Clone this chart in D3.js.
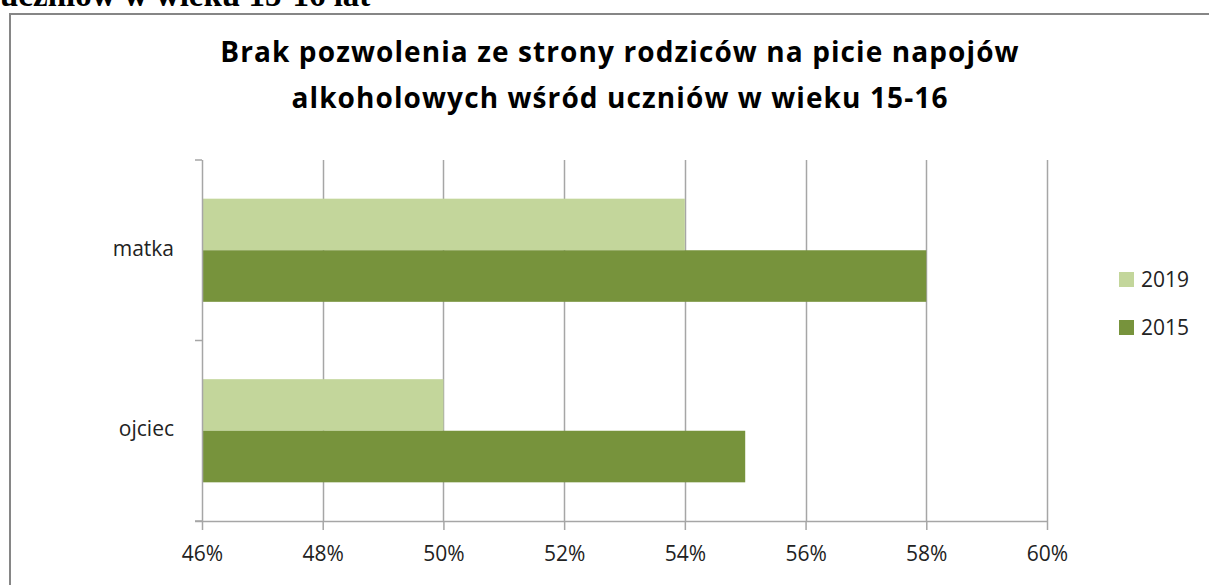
<!DOCTYPE html>
<html>
<head>
<meta charset="utf-8">
<script src="https://cdn.jsdelivr.net/npm/d3@7"></script>
<style>
  body { margin: 0; background: #fff; }
  svg { display: block; }
</style>
</head>
<body>
<div id="chart"></div>
<script>
// data
const categories = ["matka", "ojciec"];
const seriesNames = ["2019", "2015"];
const values2019 = [0.54, 0.50];
const values2015 = [0.58, 0.55];
const xTicks = [0.46, 0.48, 0.50, 0.52, 0.54, 0.56, 0.58, 0.60];
const titleLines = ["Brak pozwolenia ze strony rodziców na picie napojów",
                    "alkoholowych wśród uczniów w wieku 15-16"];
const colors = ["#c3d69b", "#77933c"];

const W = 1209, H = 585;
const font = "'Open Sans', sans-serif";
const svg = d3.select("#chart").append("svg")
    .attr("width", W).attr("height", H);

// cut-off heading of the page above the chart
svg.append("text")
    .attr("x", 0).attr("y", 6)
    .style("font-family", "'Liberation Serif', serif")
    .style("font-weight", "bold")
    .style("font-size", "33px")
    .text("uczniów w wieku 15-16 lat");

// chart frame
svg.append("rect")
    .attr("x", 10).attr("y", 14)
    .attr("width", W + 10).attr("height", H)
    .attr("fill", "#fff")
    .attr("stroke", "#868686")
    .attr("stroke-width", 2);

// title
svg.append("g").selectAll("text")
    .data(titleLines)
    .join("text")
    .attr("x", 620)
    .attr("y", (d, i) => 62 + i * 46)
    .attr("text-anchor", "middle")
    .style("font-family", font)
    .style("font-weight", "bold")
    .style("font-size", "28px")
    .style("letter-spacing", "1.1px")
    .attr("fill", "#000")
    .text(d => d);

const margin = {left: 202, top: 160};
const plotW = 845, plotH = 361;

const g = svg.append("g").attr("transform", `translate(${margin.left},${margin.top})`);

const x = d3.scaleLinear().domain([0.46, 0.60]).range([0, plotW]);
const y = d3.scaleBand().domain(categories).range([0, plotH]);
const inner = d3.scaleBand().domain(seriesNames).range([0, y.bandwidth()])
    .paddingInner(0).paddingOuter(0.75);

// gridlines
g.append("g").selectAll("line")
    .data(xTicks.slice(1))
    .join("line")
    .attr("x1", d => Math.round(x(d)) + 0.5).attr("x2", d => Math.round(x(d)) + 0.5)
    .attr("y1", 0).attr("y2", plotH)
    .attr("stroke", "#a6a6a6").attr("stroke-width", 1.5);

// bars
const rows = categories.map((c, i) => ({cat: c, vals: [values2019[i], values2015[i]]}));
g.append("g").selectAll("g")
    .data(rows)
    .join("g")
    .attr("transform", d => `translate(0,${y(d.cat)})`)
    .selectAll("rect")
    .data(d => d.vals.map((v, j) => ({name: seriesNames[j], v: v, j: j})))
    .join("rect")
    .attr("x", 0)
    .attr("y", d => inner(d.name))
    .attr("width", d => x(d.v))
    .attr("height", inner.bandwidth())
    .attr("fill", d => colors[d.j]);

// x axis
const xAxis = g.append("g")
    .attr("transform", `translate(0,${plotH})`)
    .call(d3.axisBottom(x).tickValues(xTicks).tickFormat(d3.format(".0%"))
        .tickSizeInner(9).tickSizeOuter(0).tickPadding(16));
xAxis.select(".domain").attr("d", `M-7,0.5H${plotW}`).attr("stroke", "#a6a6a6").attr("stroke-width", 1.5);
xAxis.selectAll(".tick line").attr("stroke", "#a6a6a6").attr("stroke-width", 1.5);
xAxis.selectAll("text")
    .style("font-family", font)
    .style("font-size", "21px")
    .attr("fill", "#222");

// y axis
const yAxis = g.append("g");
yAxis.append("line")
    .attr("x1", 0.5).attr("x2", 0.5).attr("y1", 0).attr("y2", plotH)
    .attr("stroke", "#a6a6a6").attr("stroke-width", 1.5);
yAxis.selectAll(".yt")
    .data([0, y.bandwidth(), plotH])
    .join("line")
    .attr("x1", -7).attr("x2", 0)
    .attr("y1", d => d).attr("y2", d => d)
    .attr("stroke", "#a6a6a6").attr("stroke-width", 1.5);
yAxis.selectAll("text")
    .data(categories)
    .join("text")
    .attr("x", -28)
    .attr("y", d => y(d) + y.bandwidth() / 2 - 2)
    .attr("dy", "0.35em")
    .attr("text-anchor", "end")
    .style("font-family", font)
    .style("font-size", "21px")
    .attr("fill", "#222")
    .text(d => d);

// legend
const legend = svg.append("g").attr("transform", "translate(1119,272)");
seriesNames.forEach((name, i) => {
    const row = legend.append("g").attr("transform", `translate(0,${i * 48})`);
    row.append("rect").attr("width", 15).attr("height", 15).attr("fill", colors[i]);
    row.append("text")
        .attr("x", 22).attr("y", 7.5).attr("dy", "0.35em")
        .style("font-family", font)
        .style("font-size", "21px")
        .attr("fill", "#222")
        .text(name);
});
</script>
</body>
</html>
